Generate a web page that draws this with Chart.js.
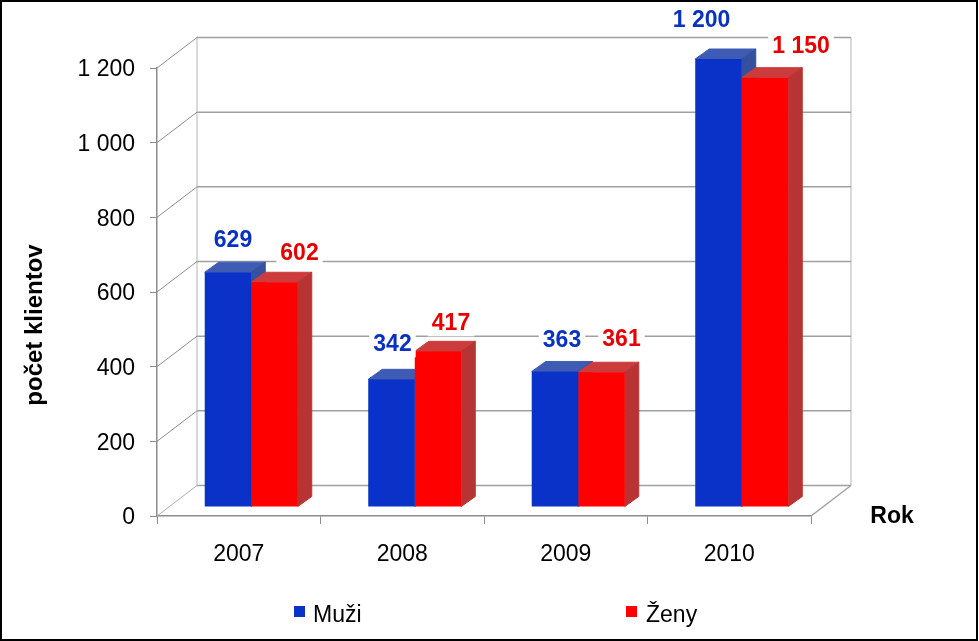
<!DOCTYPE html>
<html>
<head>
<meta charset="utf-8">
<title>Počet klientov</title>
<script src="https://cdn.jsdelivr.net/npm/chart.js@4"></script>
<style>
  html, body { margin: 0; padding: 0; background: #fff; }
  canvas { display: block; }
</style>
</head>
<body>
<canvas id="graf" width="979" height="641"></canvas>
<script>
// Data
const roky = ['2007', '2008', '2009', '2010'];
const muzi = [629, 342, 363, 1200];
const zeny = [602, 417, 361, 1150];
const yTicks = [0, 200, 400, 600, 800, 1000, 1200];

const FONT = '"Liberation Sans", Arial, sans-serif';

// Fake 3D: how far the back wall and the bars sit from the front axes
const WALL_DX = 40, WALL_DY = -30.5;
const BAR_DX = 12.5, BAR_DY = -9;
const DEPTH_DX = 14, DEPTH_DY = -10;

const faces = [
  { front: '#0a32c8', top: '#3f5cb5', side: '#34509e', text: '#0a32c0', label: 'Muži', legendX: 294, textX: 313 },
  { front: '#ff0000', top: '#cc3c3c', side: '#b83434', text: '#e60000', label: 'Ženy', legendX: 626, textX: 646 }
];

// Value labels are hand placed around the bars in the original
const labelOffsets = [
  [[5, -32], [1, -35], [7, -31], [-17, -38]],
  [[25, -29], [13, -28], [20, -33], [36, -31]]
];

function line(ctx, x1, y1, x2, y2, color, width) {
  ctx.strokeStyle = color;
  ctx.lineWidth = width;
  ctx.beginPath();
  ctx.moveTo(x1, y1);
  ctx.lineTo(x2, y2);
  ctx.stroke();
}

function poly(ctx, pts, color) {
  ctx.fillStyle = color;
  ctx.strokeStyle = color;
  ctx.lineWidth = 1;
  ctx.lineJoin = 'round';
  ctx.beginPath();
  pts.forEach((p, i) => (i ? ctx.lineTo(p[0], p[1]) : ctx.moveTo(p[0], p[1])));
  ctx.closePath();
  ctx.fill();
  ctx.stroke();
}

const pozadie = {
  id: 'pozadie',
  beforeDraw(chart) {
    const ctx = chart.ctx;
    ctx.save();
    ctx.fillStyle = '#fff';
    ctx.fillRect(0, 0, chart.width, chart.height);
    ctx.restore();
  }
};

// Back wall, side walls and floor, taken from the y scale
const steny = {
  id: 'steny',
  beforeDatasetsDraw(chart) {
    const ctx = chart.ctx;
    const y = chart.scales.y;
    const a = chart.chartArea;
    const top = y.getPixelForValue(yTicks[yTicks.length - 1]);
    const zero = y.getPixelForValue(0);
    ctx.save();
    line(ctx, a.left + WALL_DX, top + WALL_DY, a.left + WALL_DX, zero + WALL_DY, '#d9d9d9', 2);
    line(ctx, a.right + WALL_DX, top + WALL_DY, a.right + WALL_DX, zero + WALL_DY, '#d9d9d9', 2);
    yTicks.forEach(v => {
      const py = y.getPixelForValue(v);
      line(ctx, a.left + WALL_DX, py + WALL_DY, a.right + WALL_DX, py + WALL_DY, '#a0a0a0', 1.5);
      line(ctx, a.left, py, a.left + WALL_DX, py + WALL_DY, v === 0 ? '#b0b0b0' : '#8c8c8c', 1);
    });
    line(ctx, a.right, zero, a.right + WALL_DX, zero + WALL_DY, '#a0a0a0', 1.5);
    ctx.restore();
  }
};

// Bars sit a bit behind the axes, so everything is shifted and the top and side faces are added
const kvadre = {
  id: 'kvadre',
  beforeDatasetsDraw(chart) {
    const ctx = chart.ctx;
    ctx.save();
    ctx.translate(BAR_DX, BAR_DY);
    chart.data.datasets.forEach((ds, i) => {
      chart.getDatasetMeta(i).data.forEach(bar => {
        const l = bar.x - bar.width / 2;
        const r = bar.x + bar.width / 2;
        poly(ctx, [[l, bar.y], [l + DEPTH_DX, bar.y + DEPTH_DY], [r + DEPTH_DX, bar.y + DEPTH_DY], [r, bar.y]], faces[i].top);
        poly(ctx, [[r, bar.y], [r + DEPTH_DX, bar.y + DEPTH_DY], [r + DEPTH_DX, bar.base + DEPTH_DY], [r, bar.base]], faces[i].side);
      });
    });
  },
  afterDatasetsDraw(chart) {
    chart.ctx.restore();
  }
};

const popisky = {
  id: 'popisky',
  afterDraw(chart) {
    const ctx = chart.ctx;
    ctx.save();

    // value labels with the white box that cuts the gridlines
    ctx.textAlign = 'center';
    ctx.textBaseline = 'middle';
    ctx.font = 'bold 23px ' + FONT;
    chart.data.datasets.forEach((ds, i) => {
      chart.getDatasetMeta(i).data.forEach((bar, j) => {
        const txt = formatCislo(ds.data[j]);
        const x = bar.x + BAR_DX + labelOffsets[i][j][0];
        const y = bar.y + BAR_DY + labelOffsets[i][j][1];
        const w = ctx.measureText(txt).width + 8;
        ctx.fillStyle = '#fff';
        ctx.fillRect(x - w / 2, y - 13, w, 26);
        ctx.fillStyle = faces[i].text;
        ctx.fillText(txt, x, y);
      });
    });

    // axis names
    ctx.fillStyle = '#000';
    ctx.font = 'bold 23px ' + FONT;
    ctx.fillText('Rok', 892, 517);
    ctx.font = 'bold 24px ' + FONT;
    ctx.translate(35, 325);
    ctx.rotate(-Math.PI / 2);
    ctx.fillText('počet klientov', 0, 0);
    ctx.setTransform(1, 0, 0, 1, 0, 0);

    // legend, the two entries are far apart
    ctx.textAlign = 'left';
    ctx.font = '23px ' + FONT;
    faces.forEach(f => {
      ctx.fillStyle = f.front;
      ctx.fillRect(f.legendX, 606, 11, 11);
      ctx.fillStyle = '#000';
      ctx.fillText(f.label, f.textX, 616);
    });

    // black frame of the picture
    ctx.strokeStyle = '#000';
    ctx.lineWidth = 2;
    ctx.strokeRect(1, 1, chart.width - 3, chart.height - 2);
    ctx.restore();
  }
};

function formatCislo(v) {
  return v >= 1000 ? Math.floor(v / 1000) + ' ' + String(v % 1000).padStart(3, '0') : String(v);
}

new Chart(document.getElementById('graf').getContext('2d'), {
  type: 'bar',
  data: {
    labels: roky,
    datasets: [
      { label: 'Muži', data: muzi, backgroundColor: faces[0].front, clip: false },
      { label: 'Ženy', data: zeny, backgroundColor: faces[1].front, clip: false }
    ]
  },
  options: {
    responsive: false,
    animation: false,
    layout: { padding: { left: 0, top: 68, right: 168, bottom: 0 } },
    categoryPercentage: 0.569,
    barPercentage: 1,
    plugins: {
      legend: { display: false },
      tooltip: { enabled: false }
    },
    scales: {
      x: {
        afterFit: s => { s.height = 125; },
        border: { color: '#8c8c8c', width: 1.5 },
        grid: { drawOnChartArea: false, color: '#8c8c8c', tickLength: 8 },
        ticks: { color: '#000', font: { family: FONT, size: 23 }, padding: 17 }
      },
      y: {
        min: 0,
        max: 1200,
        afterFit: s => { s.width = 157; },
        afterBuildTicks: s => { s.ticks = yTicks.map(v => ({ value: v })); },
        border: { color: '#8c8c8c', width: 1.5 },
        grid: { drawOnChartArea: false, color: '#8c8c8c', tickLength: 7 },
        ticks: { color: '#000', font: { family: FONT, size: 23 }, padding: 15, labelOffset: 2, callback: v => formatCislo(v) }
      }
    }
  },
  plugins: [pozadie, steny, kvadre, popisky]
});
</script>
</body>
</html>
